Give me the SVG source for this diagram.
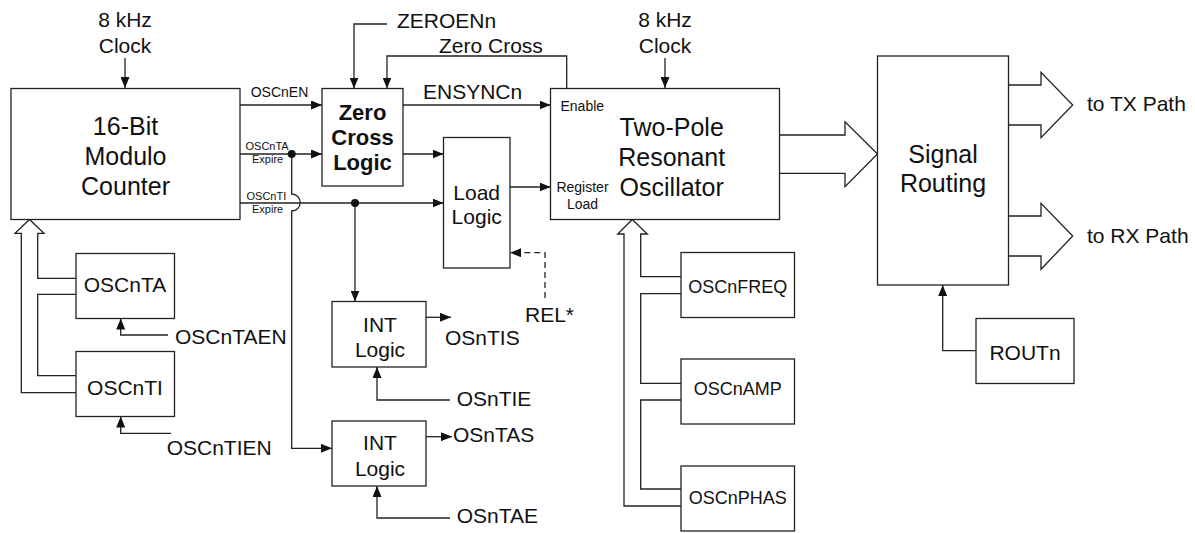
<svg xmlns="http://www.w3.org/2000/svg" width="1195" height="533" viewBox="0 0 1195 533">
<defs>
<style>
text{font-family:"Liberation Sans",Arial,sans-serif;fill:#111}
.box{fill:#fff;stroke:#222;stroke-width:1.3}
.big{font-size:25px;text-anchor:middle}
.mid{font-size:21px;text-anchor:middle}
.lbl{font-size:21px}
.reg{font-size:18px;text-anchor:middle}
.bold{font-size:22px;font-weight:bold;text-anchor:middle}
.s14{font-size:14px}
.s11{font-size:11px}
.ln{fill:none;stroke:#222;stroke-width:1.3}
.arr{marker-end:url(#ah)}
.dash{stroke-dasharray:6,4}
</style>
<marker id="ah" markerUnits="userSpaceOnUse" markerWidth="12" markerHeight="9" refX="11" refY="4.5" orient="auto"><path d="M0,0 L11,4.5 L0,9 z" fill="#111"/></marker>
</defs>
<rect width="1195" height="533" fill="#fff"/>

<g id="connectors">
<path class="ln arr" d="M125,58 V88"/>
<path class="ln arr" d="M665,58 V88"/>
<path class="ln arr" d="M240,105 H322"/>
<path class="ln arr" d="M240,154 H322"/>
<path class="ln arr" d="M240,203 H443.5"/>
<path class="ln arr" d="M291.7,154 V194 A8.5,8.5 0 0 1 291.7,211 V448.3 H332"/>
<path class="ln arr" d="M355,203 V301.5"/>
<circle cx="291.7" cy="154" r="4" fill="#111"/>
<circle cx="355" cy="203" r="4" fill="#111"/>
<path class="ln arr" d="M403,154 H443.5"/>
<path class="ln arr" d="M403,105 H550.5"/>
<path class="ln arr" d="M387,24 H354 V88.5"/>
<path class="ln arr" d="M566.7,88.5 V56 H387 V88.5"/>
<path class="ln arr" d="M510,187 H550.5"/>
<path class="ln arr dash" d="M545,298 V252.7 H510"/>
<path class="ln arr" d="M426,317.3 H451"/>
<path class="ln arr" d="M450,400 H377 V367"/>
<path class="ln arr" d="M426,436.7 H452"/>
<path class="ln arr" d="M450,518 H377 V486"/>
<path class="ln arr" d="M168,335 H120.7 V318.5"/>
<path class="ln arr" d="M171,433.3 H120.7 V416.5"/>
<path class="ln" d="M76,392.7 H21.3 V233.3 H15 L29.5,219.5 L44,233.3 H37.7 V278.3 H76"/>
<path class="ln" d="M76,294.3 H37.7 V375.7 H76"/>
<path class="ln" d="M681,506 H624 V234 H617.7 L632.3,219.5 L647.3,234 H640.7 V276.7 H681"/>
<path class="ln" d="M681,293.7 H640.7 V383.3 H681"/>
<path class="ln" d="M681,400 H640.7 V489 H681"/>
<path class="ln" d="M779.5,135 H845 V121.7 L877.5,154 L845,186.7 V173.3 H779.5"/>
<path class="ln" d="M1008.5,85 H1041 V72.3 L1072.7,105 L1041,137.7 V125 H1008.5"/>
<path class="ln" d="M1008.5,216 H1041 V203.3 L1072.7,236 L1041,269.3 V256 H1008.5"/>
<path class="ln arr" d="M976,350.7 H942.7 V285"/>
<text class="s14" x="250.7" y="97">OSCnEN</text>
<text class="s11" x="245.5" y="150">OSCnTA</text>
<text class="s11" x="252" y="163.3">Expire</text>
<text class="s11" x="246.5" y="200">OSCnTI</text>
<text class="s11" x="252" y="213">Expire</text>
<text class="lbl" x="423" y="99">ENSYNCn</text>
<text class="lbl" x="397" y="28">ZEROENn</text>
<text class="lbl" x="439" y="52.5">Zero Cross</text>
<text class="mid" x="125" y="27">8 kHz</text>
<text class="mid" x="125" y="53">Clock</text>
<text class="mid" x="665" y="27">8 kHz</text>
<text class="mid" x="665" y="53">Clock</text>
<text class="lbl" x="525" y="321.5">REL*</text>
<text class="lbl" x="445" y="345">OSnTIS</text>
<text class="lbl" x="456.7" y="405.5">OSnTIE</text>
<text class="lbl" x="453" y="441.7">OSnTAS</text>
<text class="lbl" x="456.7" y="523.3">OSnTAE</text>
<text class="lbl" x="175" y="344">OSCnTAEN</text>
<text class="lbl" x="166.7" y="455">OSCnTIEN</text>
<text class="lbl" x="1087" y="111">to TX Path</text>
<text class="lbl" x="1087" y="243">to RX Path</text>
</g>

<g id="counter">
<rect class="box" x="11" y="88.5" width="229" height="131"/>
<text class="big" x="125.5" y="135">16-Bit</text>
<text class="big" x="125.5" y="165">Modulo</text>
<text class="big" x="125.5" y="195">Counter</text>
</g>
<g id="zero-cross-logic">
<rect class="box" x="322" y="88.5" width="81" height="97.5"/>
<text class="bold" x="362.5" y="120">Zero</text>
<text class="bold" x="362.5" y="145">Cross</text>
<text class="bold" x="362.5" y="169.5">Logic</text>
</g>
<g id="load-logic">
<rect class="box" x="443.5" y="137.5" width="66.5" height="130.5"/>
<text class="mid" x="476.7" y="199.5">Load</text>
<text class="mid" x="476.7" y="224">Logic</text>
</g>
<g id="oscillator">
<rect class="box" x="550.5" y="88.5" width="229" height="131"/>
<text class="big" x="671.7" y="136">Two-Pole</text>
<text class="big" x="671.7" y="166">Resonant</text>
<text class="big" x="671.7" y="196">Oscillator</text>
<text class="s14" x="560.5" y="111">Enable</text>
<text class="s14" x="582.5" y="192" text-anchor="middle">Register</text>
<text class="s14" x="582.5" y="209" text-anchor="middle">Load</text>
</g>
<g id="signal-routing">
<rect class="box" x="877.5" y="56" width="131" height="229"/>
<text class="big" x="943" y="163">Signal</text>
<text class="big" x="943" y="192">Routing</text>
</g>
<g id="routn">
<rect class="box" x="976" y="318.5" width="98" height="65"/>
<text class="mid" x="1025" y="360">ROUTn</text>
</g>
<g id="oscnta">
<rect class="box" x="76" y="253.5" width="98.5" height="65"/>
<text class="mid" x="125" y="292">OSCnTA</text>
</g>
<g id="oscnti">
<rect class="box" x="76" y="351.5" width="98.5" height="65"/>
<text class="mid" x="125" y="395">OSCnTI</text>
</g>
<g id="int-logic-1">
<rect class="box" x="332" y="301.5" width="94" height="65.5"/>
<text class="mid" x="380" y="332">INT</text>
<text class="mid" x="380" y="357">Logic</text>
</g>
<g id="int-logic-2">
<rect class="box" x="332" y="421" width="94" height="65"/>
<text class="mid" x="380" y="450">INT</text>
<text class="mid" x="380" y="475.5">Logic</text>
</g>
<g id="oscnfreq">
<rect class="box" x="681" y="252.5" width="113.5" height="65"/>
<text class="reg" x="737.7" y="293">OSCnFREQ</text>
</g>
<g id="oscnamp">
<rect class="box" x="681" y="359" width="113.5" height="65"/>
<text class="reg" x="737.7" y="395">OSCnAMP</text>
</g>
<g id="oscnphas">
<rect class="box" x="681" y="466" width="113.5" height="65"/>
<text class="reg" x="737.7" y="504">OSCnPHAS</text>
</g>
</svg>
